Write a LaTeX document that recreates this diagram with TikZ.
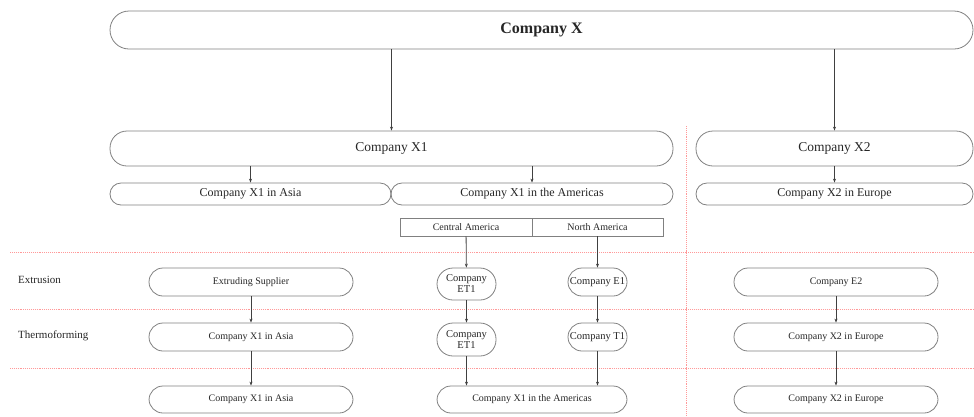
\documentclass[tikz,border=0pt]{standalone}
\usepackage{fontspec}
\setmainfont{Liberation Serif}
\usepackage{tikz}
\usetikzlibrary{arrows.meta,positioning}

\begin{document}
\begin{tikzpicture}[x=1pt, y=-1pt]
        % Define styles
        \tikzset{
            pill/.style={rectangle, draw=black!50, line width=0.8pt, rounded corners=#1, inner sep=0pt, text=black!85, align=center},
            pill/.default=11pt,
            region/.style={rectangle, draw=black!50, line width=0.6pt, inner sep=0pt, minimum height=18pt, text=black!85, font=\fontsize{10}{12}\selectfont},
            lane/.style={pill=14pt, minimum height=28pt, font=\fontsize{10}{12}\selectfont},
            small/.style={pill=16pt, minimum width=59pt, minimum height=32pt, font=\fontsize{10.5}{11}\selectfont},
            phase/.style={anchor=west, inner sep=0pt, text=black!85, font=\fontsize{11}{13}\selectfont},
            arrow/.style={line width=0.8pt, draw=black!75, -{Stealth[length=4pt, width=3pt]}},
            divider/.style={draw=red!40, densely dotted, line width=0.9pt}
        }
        \useasboundingbox (0,0) rectangle (974,416);

        % Separators
        \draw [divider] (10,252) -- (974,252);
        \draw [divider] (10,309) -- (974,309);
        \draw [divider] (10,368) -- (974,368);
        \draw [divider] (686,126) -- (686,416);

        % Create nodes
        \node [pill=19pt, minimum width=863pt, minimum height=38pt, font=\fontsize{16}{18}\selectfont\bfseries] (top) at (541.5,30) {Company X};
        \node [pill=17pt, minimum width=563pt, minimum height=35pt, font=\fontsize{13.5}{15}\selectfont] (x1) at (391.5,148.5) {Company X1};
        \node [pill=17pt, minimum width=277pt, minimum height=35pt, font=\fontsize{13.5}{15}\selectfont] (x2) at (834.5,148.5) {Company X2};
        \node [pill, minimum width=281pt, minimum height=22pt, font=\fontsize{12}{14}\selectfont] (asia) at (250.5,194) {Company X1 in Asia};
        \node [pill, minimum width=282pt, minimum height=22pt, font=\fontsize{12}{14}\selectfont] (amer) at (532,194) {Company X1 in the Americas};
        \node [pill, minimum width=277pt, minimum height=22pt, font=\fontsize{12}{14}\selectfont] (europe) at (834.5,194) {Company X2 in Europe};
        \node [region, minimum width=132pt] (central) at (466,227) {Central America};
        \node [region, minimum width=131pt] (north) at (597.5,227) {North America};

        \node [phase] (extrusion) at (18,280) {Extrusion};
        \node [phase] (thermo) at (18,336) {Thermoforming};

        \node [lane, minimum width=204pt] (supplier) at (251,282) {Extruding Supplier};
        \node [small] (et1a) at (466.5,284) {Company\\ET1};
        \node [lane, minimum width=59pt, font=\fontsize{10.5}{12}\selectfont] (e1) at (597.5,282) {Company E1};
        \node [lane, minimum width=204pt] (e2) at (836,282) {Company E2};

        \node [lane, minimum width=204pt] (asiaT) at (251,337) {Company X1 in Asia};
        \node [small, minimum height=33pt] (et1b) at (466.5,339.5) {Company\\ET1};
        \node [lane, minimum width=59pt, font=\fontsize{10.5}{12}\selectfont] (t1) at (597.5,337) {Company T1};
        \node [lane, minimum width=204pt] (europeT) at (836,337) {Company X2 in Europe};

        \node [lane, minimum width=204pt, minimum height=27pt] (asiaF) at (251,399.5) {Company X1 in Asia};
        \node [lane, minimum width=190pt, minimum height=27pt] (amerF) at (532,399.5) {Company X1 in the Americas};
        \node [lane, minimum width=204pt, minimum height=27pt] (europeF) at (836,399.5) {Company X2 in Europe};

        % Create arrows
        \draw [arrow] (top.south -| x1.north) -- (x1.north);
        \draw [arrow] (top.south -| x2.north) -- (x2.north);
        \draw [arrow] (x1.south -| asia.north) -- (asia.north);
        \draw [arrow] (x1.south -| amer.north) -- (amer.north);
        \draw [arrow] (x2.south -| europe.north) -- (europe.north);
        \draw [arrow] (central) -- (et1a);
        \draw [arrow] (north) -- (e1);
        \draw [arrow] (supplier) -- (asiaT);
        \draw [arrow] (asiaT) -- (asiaF);
        \draw [arrow] (et1a) -- (et1b);
        \draw [arrow] (et1b.south) -- (et1b.south |- amerF.north);
        \draw [arrow] (e1) -- (t1);
        \draw [arrow] (t1.south) -- (t1.south |- amerF.north);
        \draw [arrow] (e2) -- (europeT);
        \draw [arrow] (europeT) -- (europeF);
    \end{tikzpicture}
\end{document}
